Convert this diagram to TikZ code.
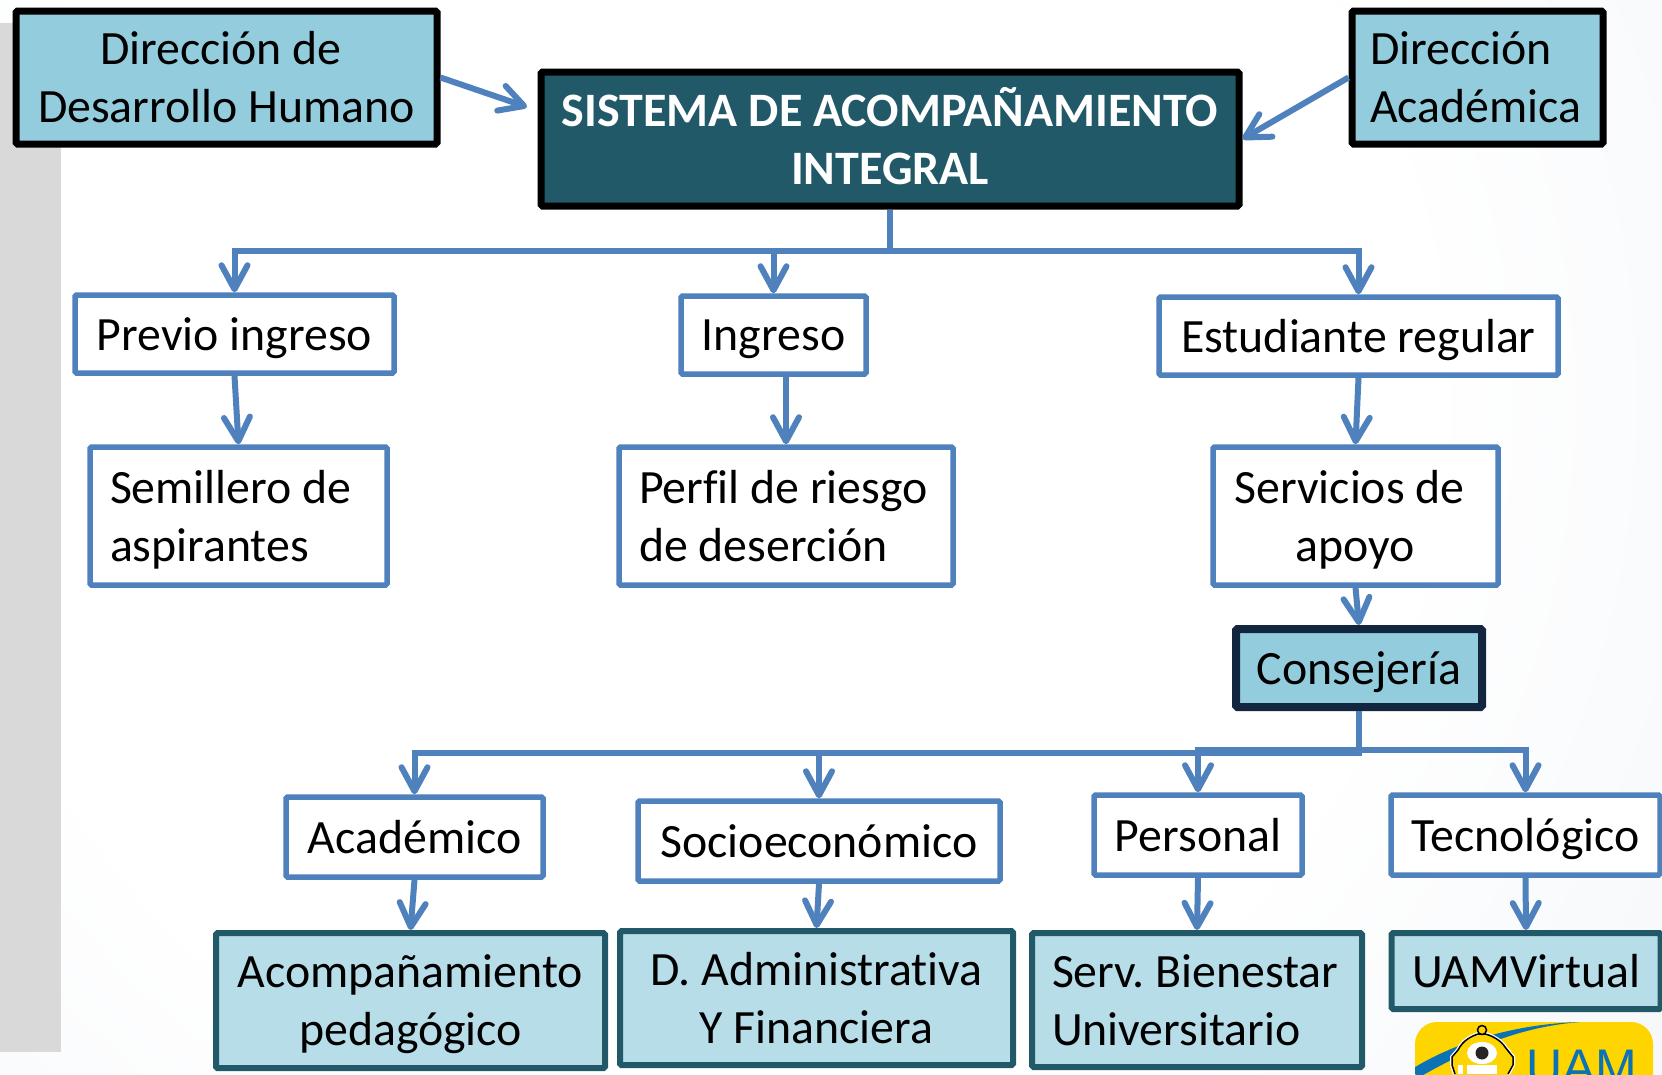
\documentclass[tikz,border=0pt]{standalone}
\usepackage{fontspec}
\setmainfont{Carlito}[Ligatures=NoCommon]
\usetikzlibrary{arrows.meta}
\frenchspacing
\definecolor{boxblue}{HTML}{4F81BD}
\definecolor{fillmid}{HTML}{93CDDD}
\definecolor{filllight}{HTML}{B7DDE8}
\definecolor{darkteal}{HTML}{215968}
\definecolor{darknavy}{HTML}{12263F}
\definecolor{logoyellow}{HTML}{FFD500}
\definecolor{logoblue}{HTML}{0B72B5}
\definecolor{bgsoft}{HTML}{F6F8FA}
\definecolor{bgmid}{HTML}{EEF2F6}
\definecolor{bgedge}{HTML}{D3DAE3}
\pgfdeclareradialshading{pagebg}{\pgfpointorigin}{color(0bp)=(white); color(15bp)=(white); color(24bp)=(bgsoft); color(29.5bp)=(bgmid); color(34.6bp)=(bgedge); color(50bp)=(bgedge)}
\tikzset{
    every node/.style={font=\fontsize{47.8}{58}\selectfont, inner sep=0pt, rounded corners=1.5pt},
    director/.style={draw=black, line width=7pt, fill=fillmid},
    stage/.style={draw=boxblue, line width=5.5pt, fill=white},
    area/.style={draw=darkteal, line width=6pt, fill=filllight},
    conn/.style={draw=boxblue, line width=6pt, -{Straight Barb[length=24pt,width=26pt,round]}},
}
\begin{document}
\begin{tikzpicture}[x=1pt,y=-1pt]
    \useasboundingbox (0,0) rectangle (1662,1074);
    \clip (0,0) rectangle (1662,1074);
    \shade[shading=pagebg] (-500,-800) rectangle (1900,1600);
    \fill[gray!30] (0,23) rectangle (61,1052);

    \node[director, minimum width=421pt, minimum height=133pt, align=center] (dirhumano) at (226.5,77.5) {Dirección de\hspace*{11pt}\\Desarrollo Humano};
    \node[director, fill=darkteal, text=white, minimum width=698pt, minimum height=134pt, align=center, text depth=6pt, font=\fontsize{48}{58}\selectfont\bfseries] (sistema) at (890,139) {SISTEMA DE ACOMPAÑAMIENTO\\INTEGRAL};
    \node[director, text width=215pt, inner xsep=18pt, minimum height=133pt, align=flush left] (diracademica) at (1477.5,77.5) {Dirección\\Académica};

    \node[stage, minimum width=319pt, minimum height=78pt, text depth=0pt] (previo) at (234.5,334) {Previo ingreso};
    \node[stage, minimum width=185pt, minimum height=78pt, text depth=0pt] (ingreso) at (773.5,335) {Ingreso};
    \node[stage, minimum width=399pt, minimum height=78pt, text depth=0pt] (regular) at (1358.5,336) {Estudiante regular};

    \node[stage, text width=257pt, inner xsep=20pt, minimum height=138pt, align=flush left, text depth=58pt] (semillero) at (238.5,516) {Semillero de\\aspirantes};
    \node[stage, text width=294pt, inner xsep=20pt, minimum height=138pt, align=flush left] (perfil) at (786,516) {Perfil de riesgo\\de deserción};
    \node[stage, minimum width=285pt, minimum height=138pt, align=center, text depth=0pt] (servicios) at (1355.5,516) {Servicios de\hspace*{12pt}\\apoyo};

    \node[director, draw=darknavy, line width=8pt, minimum width=246pt, minimum height=78pt, text depth=0pt] (consejeria) at (1359,668) {Consejería};

    \node[stage, minimum width=257pt, minimum height=80pt] (academico) at (414.5,837) {Académico};
    \node[stage, minimum width=362pt, minimum height=80pt] (socio) at (819,841) {Socioeconómico};
    \node[stage, minimum width=208pt, minimum height=80pt] (personal) at (1198,835) {Personal};
    \node[stage, minimum width=269pt, minimum height=80pt, text depth=0pt] (tecno) at (1525.5,835) {Tecnológico};

    \node[area, minimum width=389pt, minimum height=135pt, align=center, text depth=0pt] (acomp) at (410.5,1000.5) {Acompañamiento\\pedagógico};
    \node[area, minimum width=393pt, minimum height=134pt, align=center] (admin) at (816.5,998) {D. Administrativa\\Y Financiera};
    \node[area, text width=290pt, inner xsep=20pt, minimum height=134pt, align=flush left] (bienestar) at (1197,1000) {\mbox{Serv. Bienestar}\\Universitario};
    \node[area, minimum width=269pt, minimum height=76pt] (virtual) at (1526,971) {UAMVirtual};

    \coordinate (busup) at (890,251);
    \coordinate (buslow) at (1359,752.5);
    \coordinate (busright) at (1359,750);
    \coordinate (sistemaleft) at (527,107);

    \draw[conn] (dirhumano.east) -- (sistemaleft);
    \draw[conn] (diracademica.west) -- (sistema.east);

    \draw[conn] (sistema.south) -- (busup) -| (previo.north);
    \draw[conn] (busup) -| (ingreso.north);
    \draw[conn] (busup) -| (regular.north);

    \draw[conn] (previo.south) -- (semillero.north);
    \draw[conn] (ingreso.south -| perfil.north) -- (perfil.north);
    \draw[conn] (regular.south) -- (servicios.north);
    \draw[conn] (servicios.south) -- (consejeria.north);

    \draw[conn] (consejeria.south) -- (buslow) -| (academico.north);
    \draw[conn] (buslow) -| (socio.north);
    \draw[conn] (busright) -| (personal.north);
    \draw[conn] (busright) -| (tecno.north);

    \draw[conn] (academico.south) -- (acomp.north);
    \draw[conn] (socio.south) -- (admin.north);
    \draw[conn] (personal.south) -- (bienestar.north);
    \draw[conn] (tecno.south) -- (virtual.north);

    \fill[logoyellow, rounded corners=22pt] (1415,1022) rectangle (1653,1110);
    \begin{scope}
        \clip[rounded corners=22pt] (1415,1022) rectangle (1653,1110);
        \fill[logoblue] (1412,1069) .. controls (1450,1045) and (1510,1024) .. (1580,1022) .. controls (1530,1026) and (1480,1042) .. (1418,1078) -- cycle;
    \end{scope}
    \draw[draw=white, line width=4pt] (1455,1074) -- (1452,1065) -- (1452,1057) -- (1458,1050) .. controls (1463,1040) and (1472,1036) .. (1478,1034) -- (1485,1034) .. controls (1494,1036) and (1502,1042) .. (1505,1047) -- (1513,1057) -- (1513,1065) -- (1508,1074);
    \filldraw[draw=black, fill=logoyellow, line width=1.5pt] (1455,1074) -- (1452,1065) -- (1452,1057) -- (1458,1050) .. controls (1463,1040) and (1472,1036) .. (1478,1034) -- (1485,1034) .. controls (1494,1036) and (1502,1042) .. (1505,1047) -- (1513,1057) -- (1513,1065) -- (1508,1074);
    \filldraw[draw=black, fill=logoyellow, line width=1.5pt] (1482,1030) circle (4.5pt);
    \fill[white] (1482,1053) ellipse (15pt and 11pt);
    \fill[black!85] (1482,1053) circle (6.5pt);
    \fill[white] (1467,1065) rectangle (1497,1074);
    \fill[white] (1458,1065) rectangle (1463,1074);
    \node[text=logoblue, font=\fontsize{50}{50}\fontspec{Liberation Sans}, anchor=base west] (logotext) at (1526,1084) {UAM};
\end{tikzpicture}
\end{document}
